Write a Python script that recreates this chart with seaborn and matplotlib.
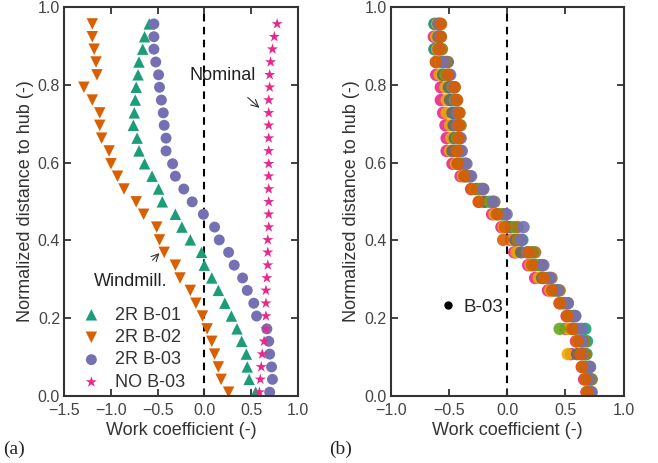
import numpy as np
import pandas as pd
import matplotlib
matplotlib.use("Agg")
import matplotlib.pyplot as plt
from matplotlib.lines import Line2D
import seaborn as sns

# ---------------- data ----------------
span = [0.957, 0.924, 0.892, 0.859, 0.826, 0.794, 0.761, 0.728, 0.696, 0.663,
        0.630, 0.597, 0.565, 0.532, 0.499, 0.467, 0.434, 0.401, 0.369, 0.336,
        0.303, 0.271, 0.238, 0.205, 0.172, 0.140, 0.107, 0.074, 0.042, 0.009]

b01 = [-0.59, -0.64, -0.66, -0.70, -0.71, -0.73, -0.74, -0.75, -0.76, -0.72,
       -0.70, -0.64, -0.56, -0.49, -0.45, -0.31, -0.24, -0.15, -0.03, 0.00,
       0.08, 0.15, 0.22, 0.29, 0.35, 0.40, 0.45, 0.46, 0.48, 0.55]
b02 = [-1.20, -1.20, -1.18, -1.16, -1.15, -1.29, -1.20, -1.12, -1.12, -1.10,
       -1.02, -1.00, -0.93, -0.86, -0.73, -0.65, -0.51, -0.48, -0.43, -0.31,
       -0.26, -0.15, -0.09, -0.02, 0.03, 0.08, 0.11, 0.15, 0.18, 0.26]
b03 = [-0.54, -0.54, -0.54, -0.52, -0.49, -0.48, -0.46, -0.44, -0.43, -0.41,
       -0.41, -0.34, -0.31, -0.22, -0.13, -0.01, 0.11, 0.16, 0.26, 0.32,
       0.41, 0.46, 0.53, 0.56, 0.67, 0.69, 0.70, 0.72, 0.73, 0.70]
nob03 = [0.78, 0.75, 0.73, 0.71, 0.70, 0.70, 0.69, 0.69, 0.69, 0.69,
         0.69, 0.69, 0.69, 0.69, 0.69, 0.69, 0.69, 0.68, 0.68, 0.68,
         0.67, 0.66, 0.66, 0.66, 0.66, 0.64, 0.62, 0.61, 0.60, 0.59]
left_labels = ["2R B-01", "2R B-02", "2R B-03", "NO B-03"]

# panel (b): several B-03 samples
s_pink = [-0.62, -0.63, -0.62, -0.61, -0.61, -0.57, -0.57, -0.55, -0.53, -0.52,
          -0.52, -0.47, -0.40, -0.31, -0.24, -0.13, -0.05, 0.03, 0.06, 0.18,
          0.24, 0.35, 0.45, 0.51, 0.50, 0.59, 0.55, 0.64, 0.66, 0.68]
s_teal = [-0.625, -0.60, -0.625, -0.59, -0.56, -0.50, -0.48, -0.45, -0.42, -0.46,
          -0.44, -0.40, -0.35, -0.22, -0.13, -0.03, 0.00, 0.13, 0.22, 0.29,
          0.36, 0.44, 0.52, 0.58, 0.67, 0.685, 0.68, 0.71, 0.725, 0.70]
s_yellow = [-0.60, -0.61, -0.60, -0.58, -0.58, -0.53, -0.52, -0.52, -0.49, -0.48,
            -0.49, -0.44, -0.38, -0.28, -0.21, -0.11, -0.03, 0.05, 0.08, 0.20,
            0.27, 0.37, 0.47, 0.53, 0.52, 0.60, 0.52, 0.65, 0.68, 0.69]
s_gray = [-0.59, -0.59, -0.58, -0.51, -0.55, -0.50, -0.49, -0.47, -0.46, -0.45,
          -0.47, -0.42, -0.36, -0.26, -0.19, -0.08, 0.03, 0.07, 0.12, 0.24,
          0.30, 0.40, 0.48, 0.54, 0.57, 0.63, 0.60, 0.67, 0.69, 0.70]
s_lime = [-0.58, -0.57, -0.57, -0.56, -0.53, -0.47, -0.45, -0.42, -0.41, -0.43,
          -0.41, -0.38, -0.33, -0.24, -0.15, -0.05, 0.06, 0.10, 0.20, 0.27,
          0.34, 0.42, 0.50, 0.56, 0.45, 0.65, 0.66, 0.69, 0.71, 0.71]
s_brown = [-0.57, -0.575, -0.56, -0.53, -0.50, -0.45, -0.43, -0.41, -0.40, -0.41,
           -0.40, -0.36, -0.32, -0.21, -0.11, -0.02, 0.09, 0.09, 0.24, 0.30,
           0.38, 0.45, 0.51, 0.57, 0.60, 0.66, 0.67, 0.70, 0.72, 0.725]
s_purple = [-0.59, -0.58, -0.59, -0.55, -0.49, -0.46, -0.44, -0.43, -0.43, -0.40,
            -0.39, -0.35, -0.31, -0.205, -0.12, -0.005, 0.14, 0.12, 0.17, 0.31,
            0.37, 0.43, 0.52, 0.585, 0.636, 0.64, 0.64, 0.71, 0.70, 0.72]
s_orange = [-0.57, -0.57, -0.587, -0.613, -0.51, -0.453, -0.433, -0.413, -0.418, -0.418,
            -0.433, -0.427, -0.37, -0.304, -0.246, -0.089, -0.02, -0.035, 0.183, 0.212,
            0.312, 0.384, 0.45, 0.513, 0.556, 0.599, 0.628, 0.642, 0.67, 0.685]

right_series = {"pink": s_pink, "teal": s_teal, "yellow": s_yellow, "gray": s_gray,
                "lime": s_lime, "brown": s_brown, "purple": s_purple, "orange": s_orange}
right_colors = {"pink": "#e7298a", "teal": "#1b9e77", "yellow": "#e6ab02", "gray": "#666666",
                "lime": "#66a61e", "brown": "#a6761d", "purple": "#7570b3", "orange": "#d95f02"}

# ---------------- style ----------------
sns.set_theme(style="ticks")
plt.rcParams["font.family"] = ["Liberation Sans", "DejaVu Sans"]
plt.rcParams.update({
    "axes.edgecolor": "#333333", "axes.linewidth": 1.5,
    "xtick.direction": "in", "ytick.direction": "in",
    "xtick.top": True, "ytick.right": True,
    "xtick.major.size": 5, "ytick.major.size": 5,
    "xtick.major.width": 1.3, "ytick.major.width": 1.3,
    "xtick.color": "#333333", "ytick.color": "#333333",
    "xtick.labelcolor": "#444444", "ytick.labelcolor": "#444444",
    "xtick.labelsize": 11.5, "ytick.labelsize": 11.5,
    "axes.labelsize": 13, "axes.labelcolor": "#333333",
})

fig = plt.figure(figsize=(6.58, 4.63), dpi=100)
ax1 = fig.add_axes([0.0977, 0.1454, 0.3547, 0.839])
ax2 = fig.add_axes([0.5938, 0.1454, 0.3541, 0.839])

pal = ["#1b9e77", "#d95f02", "#7570b3", "#e7298a"]
markers = ["^", "v", "o", "*"]
sizes = [68, 68, 62, 70]
for vals, lab, c, m, s in zip([b01, b02, b03, nob03], left_labels, pal, markers, sizes):
    df = pd.DataFrame({"x": vals, "y": span})
    sns.scatterplot(data=df, x="x", y="y", ax=ax1, color=c, marker=m, s=s,
                    edgecolor="none", label=lab)

for name, vals in right_series.items():
    df = pd.DataFrame({"x": vals, "y": span})
    sns.scatterplot(data=df, x="x", y="y", ax=ax2, color=right_colors[name],
                    marker="o", s=80, edgecolor="none", alpha=0.9, legend=False)

for ax in (ax1, ax2):
    ax.axvline(0, color="black", lw=1.5, ls=(0, (3.6, 2.6)), zorder=0)
    ax.set_ylim(0, 1)
    ax.set_yticks([0, 0.2, 0.4, 0.6, 0.8, 1.0])
    ax.set_yticklabels(["0.0", "0.2", "0.4", "0.6", "0.8", "1.0"])
    ax.set_xlabel("Work coefficient (-)", labelpad=3)
    ax.set_ylabel("Normalized distance to hub (-)", labelpad=3)
    ax.tick_params(axis="x", pad=5)
    ax.tick_params(axis="y", pad=3)

ax1.set_xlim(-1.5, 1.0)
ax1.set_xticks([-1.5, -1.0, -0.5, 0.0, 0.5, 1.0])
ax1.set_xticklabels(["\u22121.5", "\u22121.0", "\u22120.5", "0.0", "0.5", "1.0"])
ax2.set_xlim(-1.0, 1.0)
ax2.set_xticks([-1.0, -0.5, 0.0, 0.5, 1.0])
ax2.set_xticklabels(["\u22121.0", "\u22120.5", "0.0", "0.5", "1.0"])

leg = ax1.legend(loc="lower left", bbox_to_anchor=(0.0, -0.02), frameon=False,
                 fontsize=13, handletextpad=0.5, handlelength=1.6, labelspacing=0.3,
                 borderaxespad=0.3, markerscale=1.0)
for t in leg.get_texts():
    t.set_color("#333333")

ax1.annotate("Nominal", xy=(0.59, 0.741), xytext=(0.2, 0.824),
             ha="center", va="center", fontsize=13, color="#222222",
             arrowprops=dict(arrowstyle="->", color="#333333", lw=0.8,
                             shrinkA=11, shrinkB=0))
ax1.annotate("Windmill.", xy=(-0.48, 0.367), xytext=(-0.785, 0.293),
             ha="center", va="center", fontsize=13, color="#222222",
             arrowprops=dict(arrowstyle="->", color="#333333", lw=0.8,
                             shrinkA=10, shrinkB=0))

h = [Line2D([], [], ls="none", marker="o", color="black", markersize=5)]
leg2 = ax2.legend(h, ["B-03"], loc="center", bbox_to_anchor=(0.34, 0.228),
                  frameon=False, fontsize=13.5, handletextpad=0.2, handlelength=1.2)

fig.text(0.005, 0.02, "(a)", family=["Liberation Serif", "DejaVu Serif"], fontsize=14)
fig.text(0.5, 0.02, "(b)", family=["Liberation Serif", "DejaVu Serif"], fontsize=14)

fig.savefig("out.png", dpi=100)
